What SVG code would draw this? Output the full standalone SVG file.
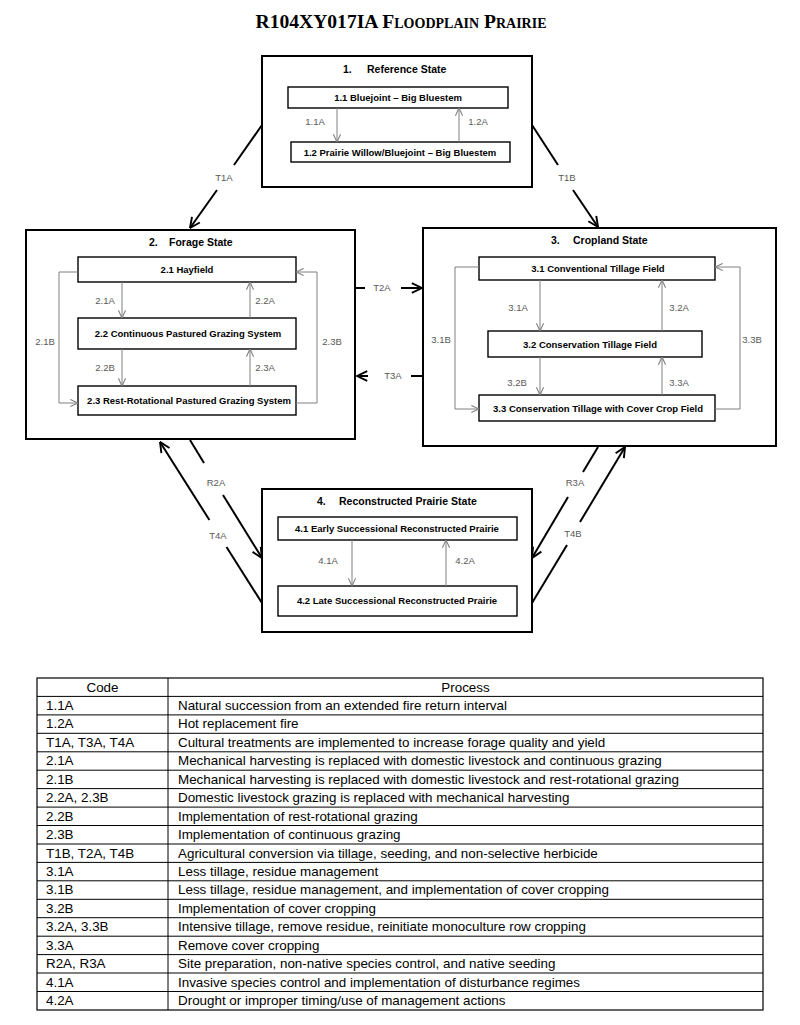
<svg xmlns="http://www.w3.org/2000/svg" width="800" height="1025" viewBox="0 0 800 1025">
<defs>
<style>
.state{fill:#fff;stroke:#000;stroke-width:2}
.node{fill:#fff;stroke:#000;stroke-width:1.4}
.st{font-family:'Liberation Sans',Arial,sans-serif;font-weight:bold;font-size:10.5px;fill:#000}
.nt{font-family:'Liberation Sans',Arial,sans-serif;font-weight:bold;font-size:9.5px;fill:#000;text-anchor:middle}
.lb{font-family:'Liberation Sans',Arial,sans-serif;font-size:9.5px;fill:#595959;text-anchor:middle}
.cg{fill:none;stroke:#808080;stroke-width:1}
.ck{fill:none;stroke:#000;stroke-width:2}
.tb{font-family:'Liberation Sans',Arial,sans-serif;font-size:13.4px;fill:#000}
.tl{stroke:#000;stroke-width:1}
.title{font-family:'Liberation Serif','Times New Roman',serif;font-weight:bold;font-size:19.6px;font-variant:small-caps;text-anchor:middle;fill:#000}
</style>
<marker id="mg" viewBox="0 0 10 10" refX="9.5" refY="5" markerWidth="9" markerHeight="9" markerUnits="userSpaceOnUse" orient="auto"><path d="M1,1 L9.5,5 L1,9" fill="none" stroke="#808080" stroke-width="1.2"/></marker>
<marker id="mk" viewBox="0 0 10 10" refX="9.5" refY="5" markerWidth="12" markerHeight="12" markerUnits="userSpaceOnUse" orient="auto"><path d="M1,1 L9.5,5 L1,9" fill="none" stroke="#000" stroke-width="1.6"/></marker>
</defs>
<rect width="800" height="1025" fill="#fff"/>
<text class="title" x="401" y="28">R104XY017IA Floodplain Prairie</text>

<g id="state1">
<rect class="state" x="262" y="56" width="270" height="131"/>
<text class="st" x="343" y="73">1.</text><text class="st" x="367" y="73">Reference State</text>
<g id="n1_1"><rect class="node" x="288" y="87" width="220" height="21"/><text class="nt" x="398" y="101">1.1 Bluejoint – Big Bluestem</text></g>
<g id="n1_2"><rect class="node" x="291" y="142" width="219" height="20"/><text class="nt" x="400" y="156">1.2 Prairie Willow/Bluejoint – Big Bluestem</text></g>
</g>

<g id="state2">
<rect class="state" x="26" y="230" width="329" height="209"/>
<text class="st" x="149" y="246">2.</text><text class="st" x="169" y="246">Forage State</text>
<g id="n2_1"><rect class="node" x="78" y="257" width="218" height="25"/><text class="nt" x="187" y="273">2.1 Hayfield</text></g>
<g id="n2_2"><rect class="node" x="78" y="318" width="218" height="31"/><text class="nt" x="188" y="337">2.2 Continuous Pastured Grazing System</text></g>
<g id="n2_3"><rect class="node" x="78" y="386" width="218" height="29"/><text class="nt" x="189" y="404">2.3 Rest-Rotational Pastured Grazing System</text></g>
</g>

<g id="state3">
<rect class="state" x="423" y="228" width="353" height="218"/>
<text class="st" x="551" y="244">3.</text><text class="st" x="573" y="244">Cropland State</text>
<g id="n3_1"><rect class="node" x="479" y="257" width="236" height="23"/><text class="nt" x="598" y="272">3.1 Conventional Tillage Field</text></g>
<g id="n3_2"><rect class="node" x="488" y="331" width="214" height="26"/><text class="nt" x="590" y="348">3.2 Conservation Tillage Field</text></g>
<g id="n3_3"><rect class="node" x="479" y="395" width="236" height="26"/><text class="nt" x="598" y="412">3.3 Conservation Tillage with Cover Crop Field</text></g>
</g>

<g id="state4">
<rect class="state" x="262" y="489" width="270" height="143"/>
<text class="st" x="317" y="505">4.</text><text class="st" x="339" y="505">Reconstructed Prairie State</text>
<g id="n4_1"><rect class="node" x="278" y="517" width="239" height="23"/><text class="nt" x="397" y="532">4.1 Early Successional Reconstructed Prairie</text></g>
<g id="n4_2"><rect class="node" x="278" y="586" width="239" height="30"/><text class="nt" x="397" y="604">4.2 Late Successional Reconstructed Prairie</text></g>
</g>

<g id="connectors">
<path class="cg" d="M337,108 V142" marker-end="url(#mg)"/><text class="lb" x="315" y="125">1.1A</text>
<path class="cg" d="M459,142 V108" marker-end="url(#mg)"/><text class="lb" x="478" y="125">1.2A</text>
<path class="cg" d="M122,282 V318" marker-end="url(#mg)"/><text class="lb" x="105" y="304">2.1A</text>
<path class="cg" d="M250,318 V282" marker-end="url(#mg)"/><text class="lb" x="265" y="304">2.2A</text>
<path class="cg" d="M122,349 V386" marker-end="url(#mg)"/><text class="lb" x="105" y="371">2.2B</text>
<path class="cg" d="M250,386 V349" marker-end="url(#mg)"/><text class="lb" x="265" y="371">2.3A</text>
<path class="cg" d="M78,272 H59 V403 H78" marker-end="url(#mg)"/><text class="lb" x="45" y="345">2.1B</text>
<path class="cg" d="M296,403 H317 V272 H296" marker-end="url(#mg)"/><text class="lb" x="332" y="345">2.3B</text>
<path class="cg" d="M540,280 V331" marker-end="url(#mg)"/><text class="lb" x="518" y="311">3.1A</text>
<path class="cg" d="M662,331 V280" marker-end="url(#mg)"/><text class="lb" x="679" y="311">3.2A</text>
<path class="cg" d="M540,357 V395" marker-end="url(#mg)"/><text class="lb" x="517" y="386">3.2B</text>
<path class="cg" d="M662,395 V357" marker-end="url(#mg)"/><text class="lb" x="679" y="386">3.3A</text>
<path class="cg" d="M479,267 H455 V409 H479" marker-end="url(#mg)"/><text class="lb" x="441" y="343">3.1B</text>
<path class="cg" d="M715,409 H740 V267 H715" marker-end="url(#mg)"/><text class="lb" x="752" y="343">3.3B</text>
<path class="cg" d="M352,540 V586" marker-end="url(#mg)"/><text class="lb" x="328" y="564">4.1A</text>
<path class="cg" d="M446,586 V540" marker-end="url(#mg)"/><text class="lb" x="465" y="564">4.2A</text>

<path class="ck" d="M262,125 L234,165"/><path class="ck" d="M217,190 L190,228" marker-end="url(#mk)"/><text class="lb" x="224" y="181">T1A</text>
<path class="ck" d="M532,125 L558,165"/><path class="ck" d="M573,190 L598,227" marker-end="url(#mk)"/><text class="lb" x="567" y="181">T1B</text>
<path class="ck" d="M355,288 H365"/><path class="ck" d="M401,288 H422" marker-end="url(#mk)"/><text class="lb" x="382" y="291">T2A</text>
<path class="ck" d="M423,376 H411"/><path class="ck" d="M368,376 H357" marker-end="url(#mk)"/><text class="lb" x="393" y="379">T3A</text>
<path class="ck" d="M190,440 L204,463"/><path class="ck" d="M223,495 L262,558" marker-end="url(#mk)"/><text class="lb" x="216" y="486">R2A</text>
<path class="ck" d="M262,603 L226.5,547"/><path class="ck" d="M209.4,520 L160,442" marker-end="url(#mk)"/><text class="lb" x="218" y="539">T4A</text>
<path class="ck" d="M598,447 L583,472"/><path class="ck" d="M568,497 L532,558" marker-end="url(#mk)"/><text class="lb" x="575" y="486">R3A</text>
<path class="ck" d="M532,603 L567,545"/><path class="ck" d="M580,522 L625,447" marker-end="url(#mk)"/><text class="lb" x="573" y="537">T4B</text>
</g>

<g id="table">
<rect x="37" y="678" width="726" height="332" fill="none" stroke="#000" stroke-width="1.2"/>
<line class="tl" x1="168" y1="678" x2="168" y2="1010"/>
<line class="tl" x1="37" y1="696.4" x2="763" y2="696.4"/>
<line class="tl" x1="37" y1="714.9" x2="763" y2="714.9"/>
<line class="tl" x1="37" y1="733.3" x2="763" y2="733.3"/>
<line class="tl" x1="37" y1="751.8" x2="763" y2="751.8"/>
<line class="tl" x1="37" y1="770.2" x2="763" y2="770.2"/>
<line class="tl" x1="37" y1="788.6" x2="763" y2="788.6"/>
<line class="tl" x1="37" y1="807.1" x2="763" y2="807.1"/>
<line class="tl" x1="37" y1="825.5" x2="763" y2="825.5"/>
<line class="tl" x1="37" y1="844" x2="763" y2="844"/>
<line class="tl" x1="37" y1="862.4" x2="763" y2="862.4"/>
<line class="tl" x1="37" y1="880.8" x2="763" y2="880.8"/>
<line class="tl" x1="37" y1="899.3" x2="763" y2="899.3"/>
<line class="tl" x1="37" y1="917.7" x2="763" y2="917.7"/>
<line class="tl" x1="37" y1="936.2" x2="763" y2="936.2"/>
<line class="tl" x1="37" y1="954.6" x2="763" y2="954.6"/>
<line class="tl" x1="37" y1="973" x2="763" y2="973"/>
<line class="tl" x1="37" y1="991.5" x2="763" y2="991.5"/>
<text class="tb" x="102.5" y="691.5" text-anchor="middle">Code</text><text class="tb" x="465.5" y="691.5" text-anchor="middle">Process</text>
<text class="tb" x="46" y="710">1.1A</text><text class="tb" x="178" y="710">Natural succession from an extended fire return interval</text>
<text class="tb" x="46" y="728.4">1.2A</text><text class="tb" x="178" y="728.4">Hot replacement fire</text>
<text class="tb" x="46" y="746.8">T1A, T3A, T4A</text><text class="tb" x="178" y="746.8">Cultural treatments are implemented to increase forage quality and yield</text>
<text class="tb" x="46" y="765.3">2.1A</text><text class="tb" x="178" y="765.3">Mechanical harvesting is replaced with domestic livestock and continuous grazing</text>
<text class="tb" x="46" y="783.7">2.1B</text><text class="tb" x="178" y="783.7">Mechanical harvesting is replaced with domestic livestock and rest-rotational grazing</text>
<text class="tb" x="46" y="802.1">2.2A, 2.3B</text><text class="tb" x="178" y="802.1">Domestic livestock grazing is replaced with mechanical harvesting</text>
<text class="tb" x="46" y="820.6">2.2B</text><text class="tb" x="178" y="820.6">Implementation of rest-rotational grazing</text>
<text class="tb" x="46" y="839">2.3B</text><text class="tb" x="178" y="839">Implementation of continuous grazing</text>
<text class="tb" x="46" y="857.5">T1B, T2A, T4B</text><text class="tb" x="178" y="857.5">Agricultural conversion via tillage, seeding, and non-selective herbicide</text>
<text class="tb" x="46" y="875.9">3.1A</text><text class="tb" x="178" y="875.9">Less tillage, residue management</text>
<text class="tb" x="46" y="894.3">3.1B</text><text class="tb" x="178" y="894.3">Less tillage, residue management, and implementation of cover cropping</text>
<text class="tb" x="46" y="912.8">3.2B</text><text class="tb" x="178" y="912.8">Implementation of cover cropping</text>
<text class="tb" x="46" y="931.2">3.2A, 3.3B</text><text class="tb" x="178" y="931.2">Intensive tillage, remove residue, reinitiate monoculture row cropping</text>
<text class="tb" x="46" y="949.7">3.3A</text><text class="tb" x="178" y="949.7">Remove cover cropping</text>
<text class="tb" x="46" y="968.1">R2A, R3A</text><text class="tb" x="178" y="968.1">Site preparation, non-native species control, and native seeding</text>
<text class="tb" x="46" y="986.5">4.1A</text><text class="tb" x="178" y="986.5">Invasive species control and implementation of disturbance regimes</text>
<text class="tb" x="46" y="1005">4.2A</text><text class="tb" x="178" y="1005">Drought or improper timing/use of management actions</text>
</g>
</svg>
